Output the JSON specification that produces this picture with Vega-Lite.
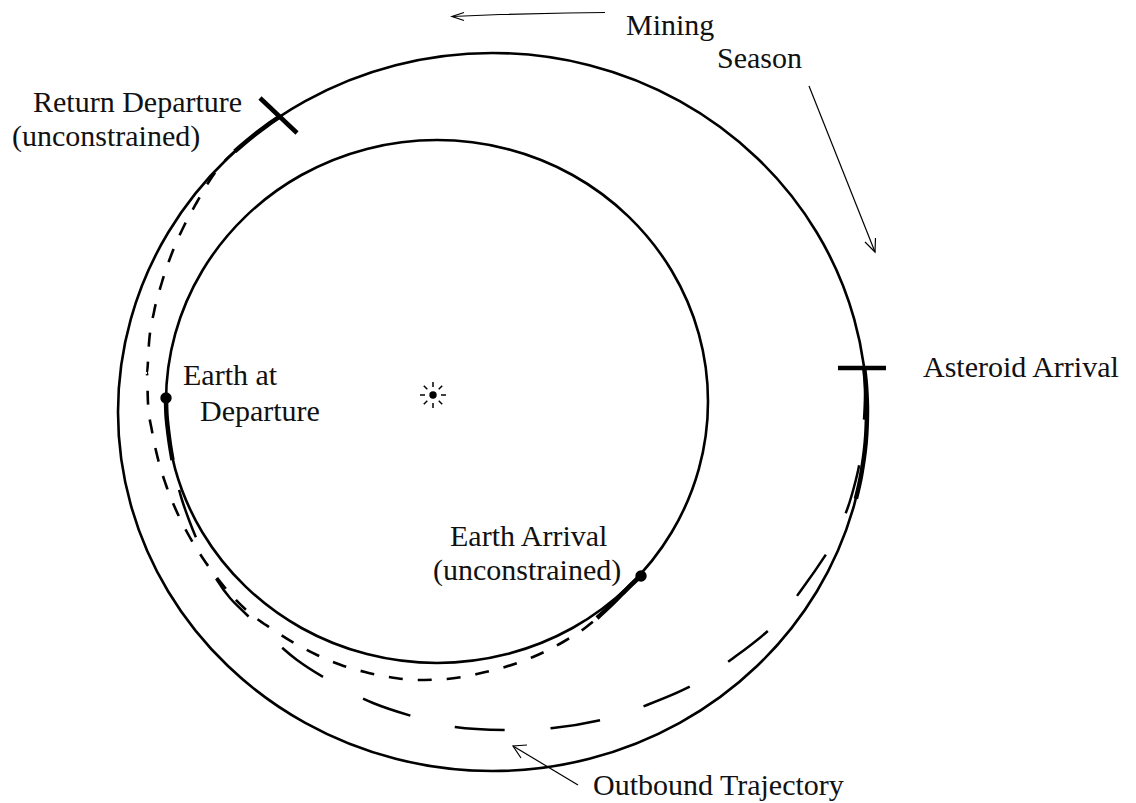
{
  "$schema": "https://vega.github.io/schema/vega-lite/v6.json",
  "width": 1136,
  "height": 803,
  "autosize": {"type": "fit", "contains": "padding"},
  "padding": 0,
  "background": "white",
  "config": {"view": {"stroke": null}},
  "datasets": {
    "outer": [
      {"x": 867, "y": 412}, {"x": 854.2, "y": 504.9}, {"x": 816.8, "y": 591.5}, {"x": 757.3, "y": 665.8},
      {"x": 679.75, "y": 722.9}, {"x": 589.4, "y": 758.8}, {"x": 492.5, "y": 771}, {"x": 395.6, "y": 758.8},
      {"x": 305.25, "y": 722.9}, {"x": 227.7, "y": 665.8}, {"x": 168.2, "y": 591.5}, {"x": 130.8, "y": 504.9},
      {"x": 118, "y": 412}, {"x": 130.8, "y": 319.1}, {"x": 168.2, "y": 232.5}, {"x": 227.7, "y": 158.2},
      {"x": 305.25, "y": 101.1}, {"x": 395.6, "y": 65.2}, {"x": 492.5, "y": 53}, {"x": 589.4, "y": 65.2},
      {"x": 679.75, "y": 101.1}, {"x": 757.3, "y": 158.2}, {"x": 816.8, "y": 232.5}, {"x": 854.2, "y": 319.1}
    ],
    "inner": [
      {"x": 708, "y": 401.5}, {"x": 698.8, "y": 469.2}, {"x": 671.7, "y": 532.25}, {"x": 628.6, "y": 586.4},
      {"x": 572.5, "y": 628}, {"x": 507.1, "y": 654.1}, {"x": 437, "y": 663}, {"x": 366.9, "y": 654.1},
      {"x": 301.5, "y": 628}, {"x": 245.4, "y": 586.4}, {"x": 202.3, "y": 532.25}, {"x": 175.2, "y": 469.2},
      {"x": 166, "y": 401.5}, {"x": 175.2, "y": 333.8}, {"x": 202.3, "y": 270.75}, {"x": 245.4, "y": 216.6},
      {"x": 301.5, "y": 175}, {"x": 366.9, "y": 148.9}, {"x": 437, "y": 140}, {"x": 507.1, "y": 148.9},
      {"x": 572.5, "y": 175}, {"x": 628.6, "y": 216.6}, {"x": 671.7, "y": 270.75}, {"x": 698.8, "y": 333.8}
    ],
    "ret": [
      {"x": 280.5, "y": 116.2}, {"x": 267.1, "y": 125.3}, {"x": 254.3, "y": 135}, {"x": 241.9, "y": 145.2},
      {"x": 234.8, "y": 151.4}, {"x": 222, "y": 164}, {"x": 210, "y": 180}, {"x": 197, "y": 202},
      {"x": 184, "y": 226}, {"x": 172, "y": 253}, {"x": 162, "y": 282}, {"x": 154, "y": 312},
      {"x": 149, "y": 343}, {"x": 147, "y": 373}, {"x": 148, "y": 403}, {"x": 152, "y": 431},
      {"x": 158, "y": 459}, {"x": 166, "y": 485}, {"x": 176, "y": 510}, {"x": 188, "y": 534},
      {"x": 202, "y": 557}, {"x": 218, "y": 579}, {"x": 234, "y": 598}, {"x": 252, "y": 615},
      {"x": 272, "y": 629}, {"x": 294, "y": 643}, {"x": 317, "y": 655}, {"x": 341, "y": 665},
      {"x": 365, "y": 672}, {"x": 389, "y": 677}, {"x": 417, "y": 680}, {"x": 447, "y": 679},
      {"x": 477, "y": 674}, {"x": 505, "y": 667}, {"x": 533, "y": 657}, {"x": 563, "y": 642},
      {"x": 585, "y": 628}, {"x": 603, "y": 613}, {"x": 622, "y": 594}, {"x": 641, "y": 576}
    ],
    "retBold": [
      {"id": "a", "x": 280.5, "y": 116.2}, {"id": "a", "x": 267.1, "y": 125.3}, {"id": "a", "x": 254.3, "y": 135},
      {"id": "a", "x": 241.9, "y": 145.2}, {"id": "a", "x": 234.8, "y": 151.4},
      {"id": "b", "x": 597, "y": 618}, {"id": "b", "x": 610, "y": 606}, {"id": "b", "x": 622, "y": 594},
      {"id": "b", "x": 632, "y": 584}, {"id": "b", "x": 641, "y": 576}
    ],
    "out": [
      {"x": 173, "y": 466}, {"x": 177, "y": 482}, {"x": 182, "y": 500}, {"x": 189, "y": 520},
      {"x": 197, "y": 540}, {"x": 206, "y": 560}, {"x": 217, "y": 580}, {"x": 230, "y": 598},
      {"x": 246, "y": 614}, {"x": 264, "y": 631}, {"x": 297, "y": 660}, {"x": 337, "y": 685},
      {"x": 373, "y": 703}, {"x": 415, "y": 717}, {"x": 455, "y": 727}, {"x": 505, "y": 730},
      {"x": 553, "y": 728}, {"x": 605, "y": 719}, {"x": 647, "y": 705}, {"x": 693, "y": 685},
      {"x": 732, "y": 659}, {"x": 773, "y": 626}, {"x": 802, "y": 589}, {"x": 830, "y": 548},
      {"x": 840, "y": 527}, {"x": 848, "y": 507}, {"x": 854, "y": 487}, {"x": 859, "y": 466},
      {"x": 862, "y": 445}, {"x": 864, "y": 420}, {"x": 865, "y": 395}, {"x": 864.2, "y": 368}
    ],
    "outBold": [
      {"id": "a", "x": 166, "y": 398}, {"id": "a", "x": 166.5, "y": 415}, {"id": "a", "x": 168, "y": 430},
      {"id": "a", "x": 170, "y": 445}, {"id": "a", "x": 172.5, "y": 460},
      {"id": "b", "x": 855.9, "y": 498.8}, {"id": "b", "x": 861.3, "y": 474.3}, {"id": "b", "x": 865.6, "y": 443.3},
      {"id": "b", "x": 867, "y": 412}, {"id": "b", "x": 866.1, "y": 387}, {"id": "b", "x": 864.2, "y": 368.2}
    ],
    "arrows": [
      {"id": "m", "x": 605, "y": 12.5}, {"id": "m", "x": 567, "y": 13}, {"id": "m", "x": 500, "y": 14.5}, {"id": "m", "x": 452, "y": 16.5},
      {"id": "mh", "x": 464, "y": 12.5}, {"id": "mh", "x": 452, "y": 16.5}, {"id": "mh", "x": 464, "y": 20.5},
      {"id": "s", "x": 809, "y": 86}, {"id": "s", "x": 875, "y": 252},
      {"id": "sh", "x": 865, "y": 242}, {"id": "sh", "x": 875, "y": 252}, {"id": "sh", "x": 875.5, "y": 238},
      {"id": "o", "x": 578, "y": 785}, {"id": "o", "x": 513, "y": 746},
      {"id": "oh", "x": 527, "y": 745}, {"id": "oh", "x": 513, "y": 746}, {"id": "oh", "x": 521, "y": 758}
    ],
    "ticks": [
      {"x": 838, "y": 368, "x2": 886, "y2": 368},
      {"x": 260, "y": 98, "x2": 297, "y2": 133}
    ],
    "rays": [
      {"x": 441, "y": 395, "x2": 446, "y2": 395},
      {"x": 438.7, "y": 400.7, "x2": 442.2, "y2": 404.2},
      {"x": 433, "y": 403, "x2": 433, "y2": 408},
      {"x": 427.3, "y": 400.7, "x2": 423.8, "y2": 404.2},
      {"x": 425, "y": 395, "x2": 420, "y2": 395},
      {"x": 427.3, "y": 389.3, "x2": 423.8, "y2": 385.8},
      {"x": 433, "y": 387, "x2": 433, "y2": 382},
      {"x": 438.7, "y": 389.3, "x2": 442.2, "y2": 385.8}
    ],
    "dots": [
      {"x": 166, "y": 398, "k": "earth"},
      {"x": 641, "y": 576, "k": "earth"},
      {"x": 433, "y": 395, "k": "sun"}
    ],
    "labels": [
      {"t": "Mining", "x": 626, "y": 35},
      {"t": "Season", "x": 717, "y": 68},
      {"t": "Return Departure", "x": 33, "y": 112},
      {"t": "(unconstrained)", "x": 12, "y": 146},
      {"t": "Earth at", "x": 183, "y": 385},
      {"t": "Departure", "x": 200, "y": 421},
      {"t": "Asteroid Arrival", "x": 923, "y": 377},
      {"t": "Earth Arrival", "x": 450, "y": 546},
      {"t": "(unconstrained)", "x": 433, "y": 580},
      {"t": "Outbound Trajectory", "x": 593, "y": 795}
    ]
  },
  "encoding": {
    "x": {"field": "x", "type": "quantitative", "scale": {"domain": [0, 1136], "nice": false, "zero": false}, "axis": null},
    "y": {"field": "y", "type": "quantitative", "scale": {"domain": [0, 803], "nice": false, "zero": false, "reverse": true}, "axis": null}
  },
  "layer": [
    {"data": {"name": "outer"}, "mark": {"type": "line", "interpolate": "cardinal-closed", "color": "black", "strokeWidth": 2.6}, "encoding": {"order": {"value": null}}},
    {"data": {"name": "inner"}, "mark": {"type": "line", "interpolate": "cardinal-closed", "color": "black", "strokeWidth": 2.6}, "encoding": {"order": {"value": null}}},
    {"data": {"name": "ret"}, "mark": {"type": "line", "interpolate": "monotone", "color": "black", "strokeWidth": 2.6, "strokeDash": [14, 15]}, "encoding": {"order": {"value": null}}},
    {"data": {"name": "out"}, "mark": {"type": "line", "interpolate": "cardinal", "color": "black", "strokeWidth": 2.5, "strokeDash": [50, 46], "strokeDashOffset": -25}, "encoding": {"order": {"value": null}}},
    {"data": {"name": "retBold"}, "mark": {"type": "line", "interpolate": "cardinal", "color": "black", "strokeWidth": 4.5}, "encoding": {"order": {"value": null}, "detail": {"field": "id"}}},
    {"data": {"name": "outBold"}, "mark": {"type": "line", "interpolate": "cardinal", "color": "black", "strokeWidth": 4.5}, "encoding": {"order": {"value": null}, "detail": {"field": "id"}}},
    {"data": {"name": "arrows"}, "mark": {"type": "line", "color": "black", "strokeWidth": 1.2}, "encoding": {"order": {"value": null}, "detail": {"field": "id"}}},
    {"data": {"name": "ticks"}, "mark": {"type": "rule", "color": "black", "strokeWidth": 4.5}, "encoding": {"x2": {"field": "x2"}, "y2": {"field": "y2"}}},
    {"data": {"name": "rays"}, "mark": {"type": "rule", "color": "black", "strokeWidth": 1.5}, "encoding": {"x2": {"field": "x2"}, "y2": {"field": "y2"}}},
    {"data": {"name": "dots"}, "mark": {"type": "point", "filled": true, "color": "black", "opacity": 1}, "encoding": {"size": {"field": "k", "type": "nominal", "scale": {"domain": ["earth", "sun"], "range": [130, 55]}, "legend": null}}},
    {"data": {"name": "labels"}, "mark": {"type": "text", "font": "Liberation Serif", "fontSize": 30, "align": "left", "baseline": "alphabetic", "color": "#111"}, "encoding": {"text": {"field": "t"}}}
  ]
}
